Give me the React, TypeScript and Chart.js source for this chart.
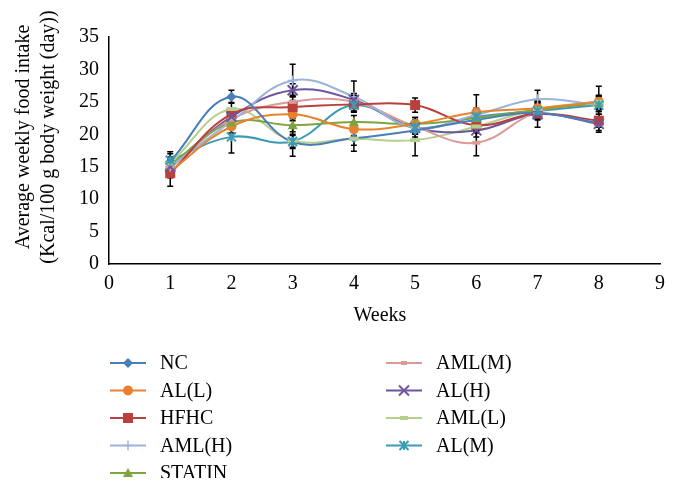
import React, { useEffect, useRef } from "react";
import { Chart, registerables } from "chart.js";

Chart.register(...registerables);

const weeks = [1, 2, 3, 4, 5, 6, 7, 8];
const seriesNames = ["NC", "AL(L)", "HFHC", "AML(H)", "STATIN", "AML(M)", "AL(H)", "AML(L)", "AL(M)"];

const NC = [15.8, 25.8, 18.8, 19.4, 20.6, 22.2, 23.3, 21.7];
const AL_L = [14.3, 21.2, 23.1, 20.8, 21.6, 23.4, 24.0, 25.0];
const HFHC = [14.0, 23.1, 24.2, 24.6, 24.5, 21.4, 23.2, 22.1];
const AML_H = [15.0, 22.0, 28.3, 25.8, 21.0, 23.0, 25.4, 24.5];
const STATIN = [15.3, 21.8, 21.4, 21.9, 21.6, 22.5, 23.8, 24.8];
const AML_M = [14.8, 22.3, 25.0, 25.0, 21.2, 18.7, 23.5, 24.9];
const AL_H = [15.0, 22.7, 26.8, 25.3, 21.0, 20.6, 23.1, 21.6];
const AML_L = [15.5, 23.9, 19.0, 19.3, 19.1, 21.2, 23.9, 25.0];
const AL_M = [16.0, 19.6, 18.9, 24.5, 21.0, 22.7, 23.6, 24.5];

const NC_err = [1.5, 1.0, 1.0, 2.0, 1.0, 1.0, 1.0, 1.4];
const AL_L_err = [1.0, 1.0, 1.0, 1.0, 1.0, 2.7, 1.0, 2.4];
const HFHC_err = [2.0, 1.0, 1.0, 1.0, 1.1, 1.0, 1.0, 1.0];
const AML_H_err = [1.0, 1.0, 2.5, 2.4, 1.0, 1.0, 1.4, 1.0];
const STATIN_err = [1.0, 1.0, 1.0, 1.0, 1.0, 1.0, 1.0, 1.0];
const AML_M_err = [1.0, 1.0, 1.0, 1.0, 1.0, 2.0, 1.0, 1.0];
const AL_H_err = [1.0, 1.0, 1.0, 1.0, 1.0, 1.0, 2.0, 1.0];
const AML_L_err = [1.0, 1.0, 1.0, 1.0, 2.4, 1.0, 1.0, 1.0];
const AL_M_err = [1.0, 2.5, 2.3, 1.0, 1.0, 1.0, 1.0, 1.0];

const values = [NC, AL_L, HFHC, AML_H, STATIN, AML_M, AL_H, AML_L, AL_M];
const errors = [NC_err, AL_L_err, HFHC_err, AML_H_err, STATIN_err, AML_M_err, AL_H_err, AML_L_err, AL_M_err];
const colors = ["#4a7ebb", "#e8822e", "#b9413c", "#9ab4dc", "#7fa43e", "#dc9a98", "#6e55a0", "#b5d08d", "#3a9bb5"];
const markers = ["rectRot", "circle", "rect", "cross", "triangle", "dash", "crossRot", "dash", "star"];
const markerRadius = [5, 5, 5, 5, 5, 4, 5, 5, 4.5];

const xTicks = [0, 1, 2, 3, 4, 5, 6, 7, 8, 9];
const yTicks = [0, 5, 10, 15, 20, 25, 30, 35];

const FONT = "'Liberation Serif', 'Times New Roman', serif";

function drawMarker(ctx: CanvasRenderingContext2D, style: string, x: number, y: number, r: number, color: string) {
  ctx.save();
  ctx.fillStyle = color;
  ctx.strokeStyle = color;
  ctx.lineWidth = 2;
  ctx.beginPath();
  if (style === "rectRot") {
    ctx.moveTo(x, y - r); ctx.lineTo(x + r, y); ctx.lineTo(x, y + r); ctx.lineTo(x - r, y); ctx.closePath(); ctx.fill();
  } else if (style === "circle") {
    ctx.arc(x, y, r, 0, Math.PI * 2); ctx.fill();
  } else if (style === "rect") {
    ctx.rect(x - r, y - r, 2 * r, 2 * r); ctx.fill();
  } else if (style === "cross") {
    ctx.lineWidth = 1.5; ctx.moveTo(x, y - r); ctx.lineTo(x, y + r); ctx.moveTo(x - r, y); ctx.lineTo(x + r, y); ctx.stroke();
  } else if (style === "triangle") {
    ctx.moveTo(x, y - r); ctx.lineTo(x + r, y + r * 0.8); ctx.lineTo(x - r, y + r * 0.8); ctx.closePath(); ctx.fill();
  } else if (style === "dash") {
    ctx.rect(x - r, y - 2, 2 * r, 4); ctx.fill();
  } else if (style === "crossRot") {
    ctx.moveTo(x - r, y - r); ctx.lineTo(x + r, y + r); ctx.moveTo(x + r, y - r); ctx.lineTo(x - r, y + r); ctx.stroke();
  } else if (style === "star") {
    ctx.moveTo(x - r, y - r); ctx.lineTo(x + r, y + r); ctx.moveTo(x + r, y - r); ctx.lineTo(x - r, y + r);
    ctx.moveTo(x, y - r); ctx.lineTo(x, y + r); ctx.stroke();
  }
  ctx.restore();
}

const overlayPlugin = {
  id: "overlay",
  afterDatasetsDraw(chart: any) {
    const ctx = chart.ctx as CanvasRenderingContext2D;
    const xs = chart.scales.x;
    const ys = chart.scales.y;
    ctx.save();
    ctx.strokeStyle = "#000";
    ctx.lineWidth = 1.5;
    values.forEach((vals, si) => {
      vals.forEach((v, i) => {
        const e = errors[si][i];
        const px = xs.getPixelForValue(weeks[i]);
        const top = ys.getPixelForValue(v + e);
        const bot = ys.getPixelForValue(v - e);
        ctx.beginPath();
        ctx.moveTo(px, top); ctx.lineTo(px, bot);
        ctx.moveTo(px - 3, top); ctx.lineTo(px + 3, top);
        ctx.moveTo(px - 3, bot); ctx.lineTo(px + 3, bot);
        ctx.stroke();
      });
    });
    ctx.restore();
    values.forEach((vals, si) => {
      vals.forEach((v, i) => {
        drawMarker(ctx, markers[si], xs.getPixelForValue(weeks[i]), ys.getPixelForValue(v), markerRadius[si], colors[si]);
      });
    });
  },
  afterDraw(chart: any) {
    const ctx = chart.ctx as CanvasRenderingContext2D;
    ctx.save();
    ctx.fillStyle = "#000";
    ctx.font = `20px ${FONT}`;
    ctx.textAlign = "center";
    ctx.textBaseline = "middle";
    ctx.fillText("Weeks", 380, 316);
    ctx.save();
    ctx.translate(24, 137);
    ctx.rotate(-Math.PI / 2);
    ctx.fillText("Average weekly food intake", 0, 0);
    ctx.fillText("(Kcal/100 g body weight (day))", 0, 25);
    ctx.restore();
    ctx.beginPath();
    ctx.rect(0, 0, 678, 478);
    ctx.clip();
    ctx.textAlign = "left";
    const rowY = [363, 390.5, 418, 445.5, 473];
    seriesNames.forEach((name, i) => {
      const col = i < 5 ? 0 : 1;
      const row = i < 5 ? i : i - 5;
      const x1 = col === 0 ? 110 : 386;
      const x2 = x1 + 36;
      const y = rowY[row];
      ctx.strokeStyle = colors[i];
      ctx.lineWidth = 2;
      ctx.beginPath();
      ctx.moveTo(x1, y); ctx.lineTo(x2, y); ctx.stroke();
      drawMarker(ctx, markers[i], (x1 + x2) / 2, y, markerRadius[i] - (markers[i] === "dash" ? 1 : 0), colors[i]);
      ctx.fillStyle = "#000";
      ctx.fillText(name, x1 + 50, y + 1);
    });
    ctx.restore();
  },
};

export default function App() {
  const ref = useRef<HTMLCanvasElement>(null);
  useEffect(() => {
    if (!ref.current) return;
    const chart = new Chart(ref.current, {
      type: "line",
      data: {
        datasets: seriesNames.map((name, si) => ({
          label: name,
          data: weeks.map((w, i) => ({ x: w, y: values[si][i] })),
          borderColor: colors[si],
          backgroundColor: colors[si],
          borderWidth: 2,
          pointRadius: 0,
          tension: 0.4,
          fill: false,
        })),
      },
      options: {
        responsive: false,
        animation: false,
        devicePixelRatio: 1,
        layout: { padding: { top: 37, right: 18, bottom: 150, left: 0 } },
        plugins: { legend: { display: false }, tooltip: { enabled: false }, title: { display: false } },
        scales: {
          x: {
            type: "linear",
            min: 0,
            max: 9,
            afterBuildTicks: (s: any) => { s.ticks = xTicks.map((v) => ({ value: v })); },
            afterFit: (s: any) => { s.height = 79; },
            grid: { display: false, drawTicks: false },
            border: { display: true, color: "#000", width: 1.5 },
            ticks: { color: "#000", font: { family: FONT, size: 20 }, padding: 8 },
          },
          y: {
            min: 0,
            max: 35,
            afterBuildTicks: (s: any) => { s.ticks = yTicks.map((v) => ({ value: v })); },
            afterFit: (s: any) => { s.width = 109; },
            grid: { display: false, drawTicks: false },
            border: { display: true, color: "#000", width: 1.5 },
            ticks: { color: "#000", font: { family: FONT, size: 20 }, padding: 10 },
          },
        },
      },
      plugins: [overlayPlugin],
    });
    return () => chart.destroy();
  }, []);
  return (
    <div style={{ position: "absolute", left: 0, top: 0, width: 678, height: 493, background: "#fff" }}>
      <canvas ref={ref} width={678} height={493} style={{ width: 678, height: 493, display: "block" }} />
    </div>
  );
}
